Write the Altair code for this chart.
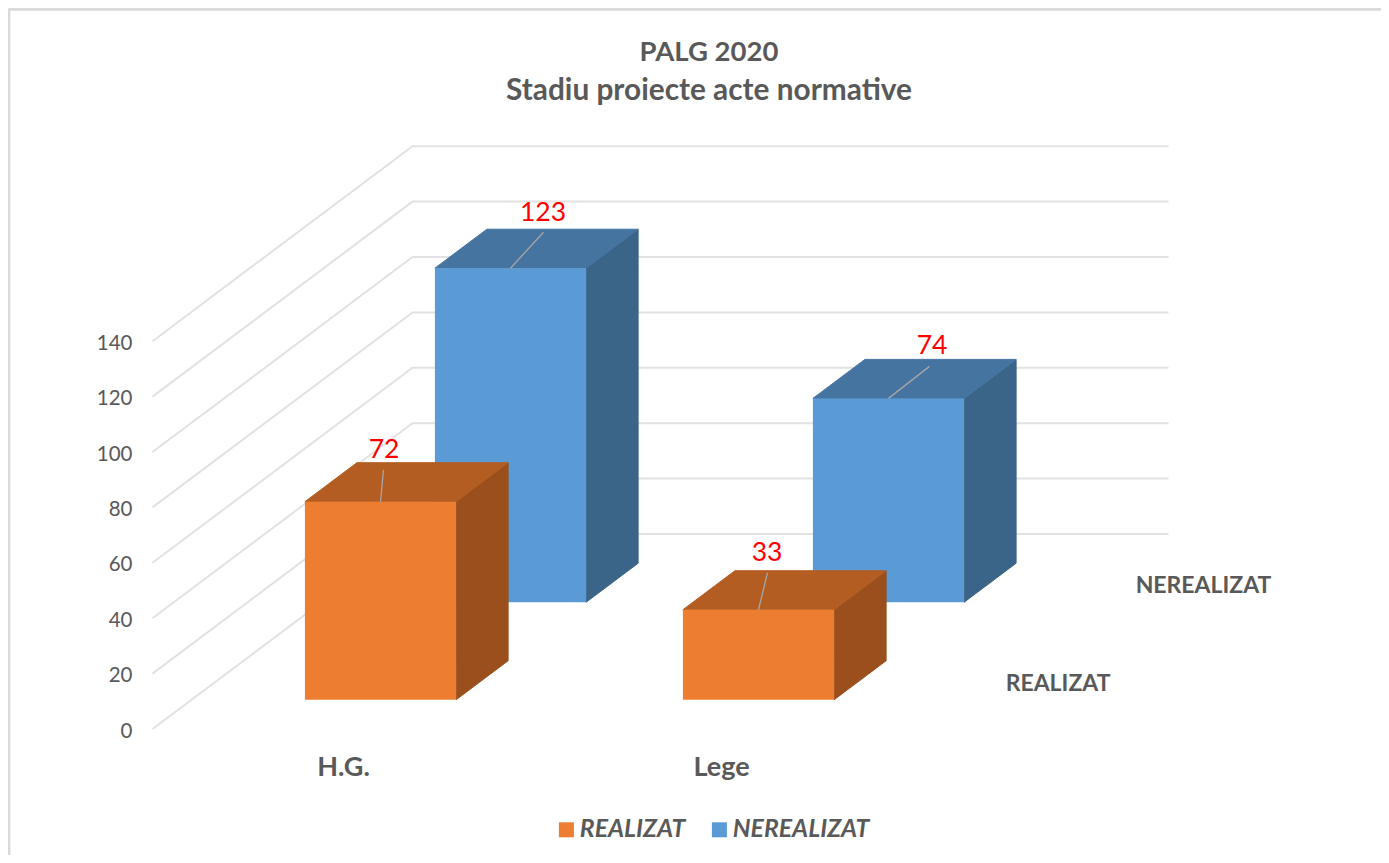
import altair as alt
import pandas as pd

# ---- values ----
categories = ["H.G.", "Lege"]
series = ["REALIZAT", "NEREALIZAT"]
labels = {"REALIZAT": [72, 33], "NEREALIZAT": [123, 74]}
# drawn bar heights, in axis units, as measured against the gridlines
heights = {"REALIZAT": [71.5, 32.5], "NEREALIZAT": [120.6, 73.6]}
axis_ticks = [0, 20, 40, 60, 80, 100, 120, 140]
title_main = "PALG 2020"
title_sub = "Stadiu proiecte acte normative"

front = {"REALIZAT": "#ED7D31", "NEREALIZAT": "#5B9BD5"}
side = {"REALIZAT": "#9A4F1C", "NEREALIZAT": "#3A6488"}
top = {"REALIZAT": "#B35D22", "NEREALIZAT": "#4674A1"}
GRID = "#E2E2E2"
FRAME = "#D9D9D9"
TEXT = "#595959"
FONT = "Lato"

# ---- oblique projection of (category position, depth, value) ----
W, H = 1373, 847
X0, Y0 = 8, 8          # page position of the plot origin
ORIGIN_X, ORIGIN_Y = 152.5, 729
CAT_W, DEPTH_X, DEPTH_Y, UNIT = 378, 260, 195, 2.77
BAR_W = 0.2            # half bar width, in category units
BAR_D = 0.1            # half bar depth, in floor units
DEPTH = {"REALIZAT": 0.25, "NEREALIZAT": 0.75}


def px(cat, depth):
    return ORIGIN_X + CAT_W * cat + DEPTH_X * depth


def val(depth, v):
    return v + depth * DEPTH_Y / UNIT


xs = alt.Scale(domain=[X0, X0 + W], range=[0, W], nice=False, zero=False)
ys = alt.Scale(
    domain=[(ORIGIN_Y - (Y0 + H)) / UNIT, (ORIGIN_Y - Y0) / UNIT],
    range=[H, 0], nice=False, zero=False,
)
y_axis = alt.Axis(
    values=axis_ticks, orient="left", offset=-124, domain=False, ticks=False,
    grid=False, labelPadding=0, labelFont=FONT, labelFontSize=20.5, labelOffset=2,
    labelColor=TEXT, labelFontWeight="normal", title=None)
X = lambda f="x": alt.X(f"{f}:Q", scale=xs, axis=None)
Y = lambda f="y": alt.Y(f"{f}:Q", scale=ys, axis=y_axis, stack=None)

# ---- chart frame: only its top and left edges fall inside the picture ----
frame_left = alt.Chart(pd.DataFrame({"k": [0]})).mark_rule(color=FRAME, strokeWidth=2).encode(
    x=alt.value(1.4), y=alt.value(1), y2=alt.value(H))
frame_top = alt.Chart(pd.DataFrame({"k": [0]})).mark_rule(color=FRAME, strokeWidth=2).encode(
    y=alt.value(1.8), x=alt.value(1), x2=alt.value(W))

# ---- gridlines on the floor side wall and the back wall ----
grid_rows = []
for t in axis_ticks:
    for order, (c, d) in enumerate([(0, 0), (0, 1), (len(categories), 1)]):
        grid_rows.append({"t": t, "o": order, "x": px(c, d), "y": val(d, t)})
grid = alt.Chart(pd.DataFrame(grid_rows)).mark_line(
    color=GRID, strokeWidth=2, interpolate="linear"
).encode(x=X(), y=Y(), detail="t:N", order="o:Q")


def bar_layers(s):
    fr, si, to = [], [], []
    for i, h in enumerate(heights[s]):
        c = i + 0.5
        x1, x2 = px(c - BAR_W, DEPTH[s] - BAR_D), px(c + BAR_W, DEPTH[s] - BAR_D)
        df, db = DEPTH[s] - BAR_D, DEPTH[s] + BAR_D
        ox = DEPTH_X * (db - df)
        fr.append({"s": s, "x": x1, "x2": x2, "y": val(df, 0), "y2": val(df, h)})
        si += [
            {"k": i, "x": x2, "y": val(df, 0), "y2": val(df, h)},
            {"k": i, "x": x2 + ox, "y": val(db, 0), "y2": val(db, h)},
        ]
        to += [
            {"k": i, "y": val(df, h), "x": x1, "x2": x2},
            {"k": i, "y": val(db, h), "x": x1 + ox, "x2": x2 + ox},
        ]
    color = alt.Color(
        "s:N",
        scale=alt.Scale(domain=series, range=[front[n] for n in series]),
        legend=alt.Legend(
            orient="none", legendX=546, legendY=809, direction="horizontal",
            title=None, symbolType="square", symbolSize=225, symbolStrokeWidth=0,
            labelFont=FONT, labelFontSize=24.8, labelFontStyle="italic",
            labelFontWeight="bold", labelColor=TEXT, columnPadding=21,
            labelOffset=1, symbolOpacity=1,
        ),
    )
    return [
        alt.Chart(pd.DataFrame(si)).mark_area(
            color=side[s], stroke=side[s], strokeWidth=1, orient="vertical",
            interpolate="linear").encode(
            x=X(), y=Y(), y2="y2:Q", detail="k:N"),
        alt.Chart(pd.DataFrame(to)).mark_area(
            color=top[s], stroke=top[s], strokeWidth=1, orient="horizontal",
            interpolate="linear").encode(
            y=Y(), x=alt.X("x:Q", scale=xs, axis=None, stack=None), x2="x2:Q", detail="k:N"),
        alt.Chart(pd.DataFrame(fr)).mark_rect(strokeWidth=0).encode(
            x=X(), x2="x2:Q", y=Y(), y2="y2:Q", color=color),
    ]


# label placement relative to the bar's front top edge midpoint (px right, px up)
LEAD = {
    ("NEREALIZAT", 0): (33, 36), ("REALIZAT", 0): (3, 32),
    ("REALIZAT", 1): (9, 37), ("NEREALIZAT", 1): (41, 32),
}
TXT = {
    ("NEREALIZAT", 0): (32.5, 47), ("REALIZAT", 0): (3.5, 44),
    ("REALIZAT", 1): (8.5, 49), ("NEREALIZAT", 1): (43.5, 44),
}
lead_rows, text_rows = [], []
for s in series:
    for i, h in enumerate(heights[s]):
        d = DEPTH[s] - BAR_D
        x0, y0 = px(i + 0.5, d), val(d, h)
        a, b = LEAD[(s, i)]
        lead_rows.append({"x": x0, "y": y0, "x2": x0 + a, "y2": y0 + b / UNIT})
        a, b = TXT[(s, i)]
        text_rows.append({"x": x0 + a, "y": y0 + b / UNIT, "t": str(labels[s][i])})

leaders = alt.Chart(pd.DataFrame(lead_rows)).mark_rule(color="#A6A6A6", strokeWidth=1.3).encode(
    x=X(), y=Y(), x2="x2:Q", y2="y2:Q")
value_text = alt.Chart(pd.DataFrame(text_rows)).mark_text(
    font=FONT, fontSize=26.5, color="#FF0000", align="center", baseline="alphabetic").encode(
    x=X(), y=Y(), text="t:N")

cat_text = alt.Chart(pd.DataFrame({
    "x": [px(i + 0.5, 0) + 2 for i in range(len(categories))],
    "y": [-14.0] * len(categories), "t": categories,
})).mark_text(font=FONT, fontSize=27, fontWeight="bold", color=TEXT,
              align="center", baseline="middle").encode(x=X(), y=Y(), text="t:N")

SER_C = 2.085
ser_text = alt.Chart(pd.DataFrame({
    "x": [px(SER_C, DEPTH[s]) for s in series],
    "y": [val(DEPTH[s], -1.2) for s in series], "t": series,
})).mark_text(font=FONT, fontSize=23, fontWeight="bold", color=TEXT,
              align="left", baseline="middle").encode(x=X(), y=Y(), text="t:N")

layers = [frame_left, frame_top, grid]
layers += bar_layers("NEREALIZAT")
layers += bar_layers("REALIZAT")
layers += [leaders, value_text, cat_text, ser_text]

chart = alt.layer(*layers).properties(
    width=W, height=H,
    padding=0,
    autosize=alt.AutoSizeParams(type="none"),
    title=alt.TitleParams(
        text=title_main, subtitle=title_sub,
        anchor="start", frame="bounds", offset=0, dx=701, dy=98,
        align="center", font=FONT, fontSize=27.5, fontWeight="bold", color=TEXT,
        subtitleFont=FONT, subtitleFontSize=29.8, subtitleFontWeight="bold",
        subtitleColor=TEXT, subtitlePadding=10,
    ),
).configure_view(stroke=None).configure(background="white")

chart.save("out.html", embed_options={"renderer": "svg", "actions": False})
